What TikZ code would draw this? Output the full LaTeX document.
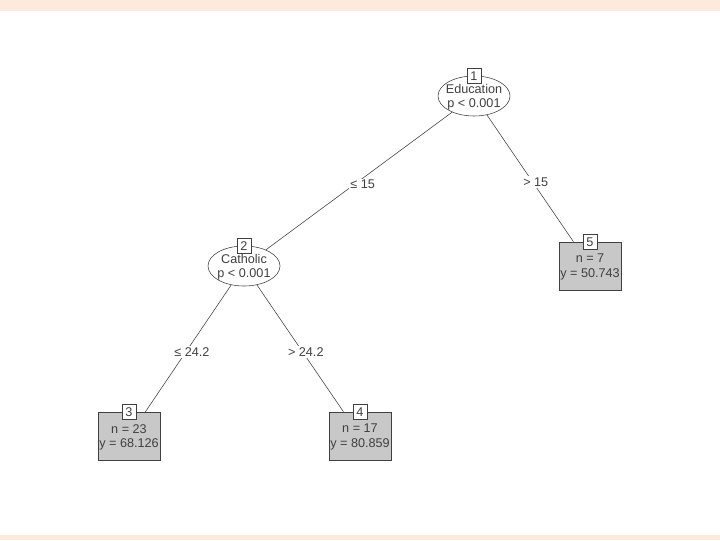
\documentclass[tikz,border=0pt]{standalone}
\usepackage{fontspec}
\setmainfont{Liberation Sans}
\usetikzlibrary{shapes.geometric}

\definecolor{peach}{HTML}{FDEADC}
\definecolor{leafgray}{HTML}{C8C8C8}
\definecolor{inkgray}{HTML}{404040}

\begin{document}
\begin{tikzpicture}[x=0.025cm, y=-0.025cm,
      font=\fontsize{9}{10.5}\selectfont, text=inkgray,
      inner/.style={draw=inkgray, ellipse, fill=white, align=center,
      inner xsep=-0.25cm, inner ysep=0pt, text depth=-0.22cm,
      minimum width=1.8cm, minimum height=1.0cm},
      leaf/.style={draw=inkgray, fill=leafgray, align=center, inner sep=0pt,
      minimum width=1.55cm, minimum height=1.2cm, text depth=-0.24cm},
      idbox/.style={draw=inkgray, fill=white, inner sep=1.5pt,
      minimum width=0.36cm, minimum height=0.36cm},
      edge/.style={draw=inkgray, line width=0.4pt},
      elabel/.style={fill=white, inner sep=1pt, xshift=0.14cm,
      yshift=-0.09cm} ]

    % Background bands
    \fill[peach] (0,0) rectangle (720,11); \fill[peach] (0,535) rectangle
    (720,540); \useasboundingbox (0,0) rectangle (720,540);

    % Inner nodes
    \node[inner] (n1) at (474,96) {Education\\p < 0.001}; \node[inner] (n2)
    at (244,266) {Catholic\\p < 0.001};

    % Terminal nodes
    \node[leaf] (n3) at (129,436) {n = 23\\y = 68.126}; \node[leaf] (n4) at
    (360,436) {n = 17\\y = 80.859}; \node[leaf] (n5) at (590,266) {n =
    7\\y = 50.743};

    % Splits
    \draw[edge] (n1) -- node[elabel, xshift=-0.05cm] {≤ 15} (n2);
    \draw[edge] (n1) -- node[elabel] {> 15} (n5); \draw[edge] (n2) --
    node[elabel, xshift=-0.05cm] {≤ 24.2} (n3); \draw[edge] (n2) --
    node[elabel] {> 24.2} (n4);

    % Node numbers
    \node[idbox] (id1) at (n1.north) {1}; \node[idbox] (id2) at (n2.north)
    {2}; \node[idbox] (id3) at (n3.north) {3}; \node[idbox] (id4) at
    (n4.north) {4}; \node[idbox] (id5) at (n5.north) {5};

  \end{tikzpicture}
\end{document}
